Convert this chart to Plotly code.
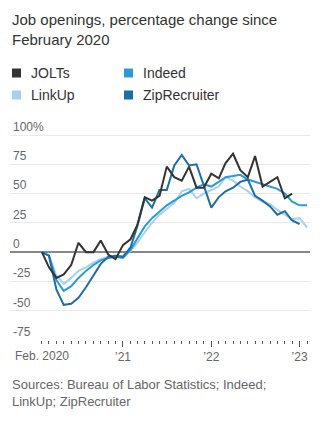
import pandas as pd
import plotly.graph_objects as go

# Monthly observations, Feb 2020 through Feb 2023
months = pd.date_range("2020-02-01", "2023-02-01", freq="MS")

# Percentage change in job openings since February 2020
jolts = [0, -13, -22, -19, -11, 8, 0, 0, 10, -2, -6, 6, 11, 23, 47, 44, 48, 73,
         64, 61, 73, 55, 55, 67, 63, 76, 84, 70, 64, 82, 56, 60, 64, 46, 50]
indeed = [0, -3, -24, -33, -29, -22, -16, -11, -7, -5, -4, -5, 2, 12, 22, 29, 35,
          40, 44, 48, 51, 55, 58, 56, 60, 64, 65, 66, 62, 60, 58, 56, 54, 50, 43, 40, 40]
linkup = [0, -3, -20, -27, -22, -16, -13, -9, -6, -4, -4, -3, 1, 8, 17, 25, 32,
          37, 42, 52, 54, 46, 50, 53, 56, 64, 61, 56, 52, 47, 43, 41, 36, 32, 28, 29, 21]
ziprecruiter = [0, -3, -32, -45, -44, -39, -30, -20, -10, -4, -3, -4, 4, 22, 46, 38,
                53, 53, 74, 83, 74, 75, 56, 38, 47, 52, 55, 60, 62, 48, 44, 39, 32, 35, 27, 24]

names = ["JOLTs", "Indeed", "LinkUp", "ZipRecruiter"]
values = [jolts, indeed, linkup, ziprecruiter]
colors = ["#333333", "#2b9ad6", "#a5d2f0", "#1d6ea3"]

ytick_vals = [-75, -50, -25, 0, 25, 50, 75, 100]
ytick_text = ["-75", "-50", "-25", "0", "25", "50", "75", "100%"]
xtick_vals = ["2021-01-01", "2022-01-01", "2023-01-01"]
xtick_text = ["\u201921", "\u201922", "\u201923"]

title_text = "Job openings, percentage change since<br>February 2020"
source_text = "Sources: Bureau of Labor Statistics; Indeed;<br>LinkUp; ZipRecruiter"

SANS = "Liberation Sans, Arial, sans-serif"
NARROW = "Liberation Sans Narrow, Arial Narrow, Liberation Sans, sans-serif"

fig = go.Figure()

# back-to-front drawing order
for i in [2, 1, 3, 0]:
    fig.add_trace(go.Scatter(
        x=months[:len(values[i])], y=values[i], name=names[i],
        mode="lines", line=dict(color=colors[i], width=2),
        showlegend=False, hoverinfo="skip",
    ))

# plot area geometry in pixels (used to place legend/title/source text)
W, H = 326, 422
L, R, T, B = 10, 16, 120, 82
pw, ph = W - L - R, H - T - B
# 100% sits 15px below the top of the plot area, -75 on its bottom edge
y_top = -75 + 175 * ph / (ph - 15)


def px(x):
    return (x - L) / pw


def py(y):
    return (H - B - y) / ph


annotations = [
    dict(text=title_text, x=px(10), y=py(9), xref="paper", yref="paper",
         xanchor="left", yanchor="top", align="left", showarrow=False,
         font=dict(family=SANS, size=15, color="#333333")),
    dict(text=source_text, x=px(10), y=py(375), xref="paper", yref="paper",
         xanchor="left", yanchor="top", align="left", showarrow=False,
         font=dict(family=SANS, size=13, color="#666666")),
    dict(text="Feb. 2020", x=months[0], y=0, xref="x", yref="paper",
         xanchor="center", yanchor="top", yshift=-7, showarrow=False,
         font=dict(family=NARROW, size=12, color="#666666")),
]

shapes = []
legend_pos = [(12, 73), (124, 73), (12, 95), (124, 95)]
for (lx, ly), name, color in zip(legend_pos, names, colors):
    shapes.append(dict(type="rect", xref="paper", yref="paper",
                       x0=px(lx), x1=px(lx + 9), y0=py(ly + 4.5), y1=py(ly - 4.5),
                       fillcolor=color, line=dict(width=0)))
    annotations.append(dict(text=name, x=px(lx + 17), y=py(ly), xref="paper", yref="paper",
                            xanchor="left", yanchor="middle", showarrow=False,
                            font=dict(family=SANS, size=14, color="#333333")))

fig.update_layout(
    width=W, height=H,
    margin=dict(l=L, r=R, t=T, b=B),
    paper_bgcolor="white", plot_bgcolor="white",
    annotations=annotations, shapes=shapes,
    xaxis=dict(
        type="date", range=["2019-09-22", "2023-02-13"],
        tickvals=xtick_vals, ticktext=xtick_text,
        ticks="outside", ticklen=6, tickwidth=1, tickcolor="#555555",
        tickfont=dict(family=NARROW, size=12, color="#666666"),
        showgrid=False, showline=False, zeroline=False,
        minor=dict(tickmode="array", tickvals=list(months), ticks="outside",
                   ticklen=3, tickwidth=1, tickcolor="#555555", showgrid=False),
    ),
    yaxis=dict(
        range=[-75, y_top], tickvals=ytick_vals, ticktext=ytick_text,
        ticklabelposition="inside top", ticklabeloverflow="allow", ticks="",
        tickfont=dict(family=NARROW, size=12, color="#666666"),
        showgrid=True, gridcolor="#e9e9e9", gridwidth=1,
        zeroline=True, zerolinecolor="#888888", zerolinewidth=1.5,
        showline=False,
    ),
)

fig.write_html("out.html")
